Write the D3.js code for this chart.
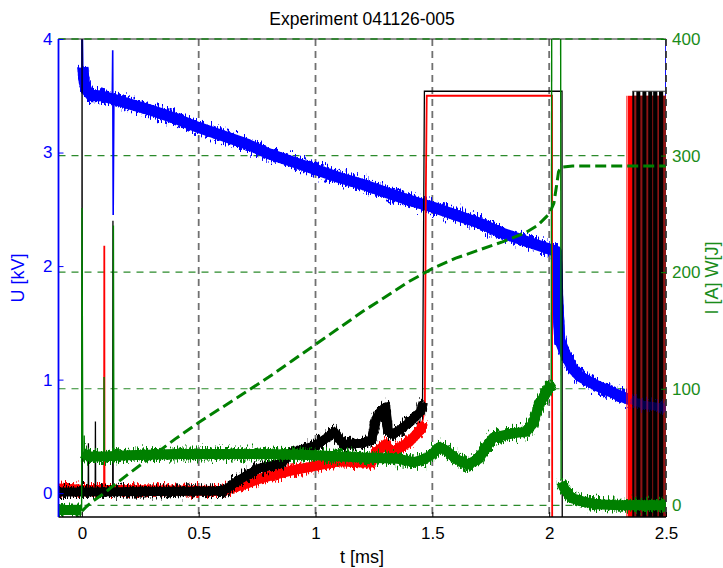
<!DOCTYPE html>
<html>
<head>
<meta charset="utf-8">
<script src="https://cdn.jsdelivr.net/npm/d3@7"></script>
<style>
  html, body { margin: 0; padding: 0; background: #fff; }
  svg { display: block; font-family: "Liberation Sans", Arial, Helvetica, sans-serif; }
</style>
</head>
<body>
<svg id="chart" width="723" height="568"></svg>
<script>
// ---------- tick values ----------
const xTicks = [0, 0.5, 1, 1.5, 2, 2.5];
const uTicks = [0, 1, 2, 3, 4];
const iTicks = [0, 100, 200, 300, 400];

// ---------- U [kV], blue (left axis) ----------
const tU  = [0.004, 0.01, 0.02, 0.04, 0.08, 0.12, 0.2, 0.3, 0.4, 0.5, 0.6, 0.7, 0.8, 0.9, 1.0, 1.1, 1.2, 1.3, 1.4, 1.5, 1.6, 1.7, 1.8, 1.9, 2.0, 2.03, 2.037, 2.045, 2.07, 2.1, 2.13, 2.2, 2.3, 2.35, 2.4, 2.5];
const uKV = [3.75, 3.62, 3.55, 3.5, 3.5, 3.48, 3.43, 3.37, 3.3, 3.22, 3.15, 3.08, 2.99, 2.92, 2.85, 2.78, 2.72, 2.65, 2.58, 2.52, 2.45, 2.38, 2.29, 2.22, 2.15, 2.13, 1.7, 1.35, 1.22, 1.1, 1.03, 0.95, 0.86, 0.82, 0.78, 0.75];
// fast transients of U: [t, kV] polylines
const uSpikes = [
  [[0, 3.7], [0.0005, 4.3], [0.004, 3.75]],
  [[0.13, 3.47], [0.132, 3.9], [0.134, 2.45], [0.137, 3.45]],
  [[2.497, 0.75], [2.5, 4.3]]
];

// ---------- red probe [kV] (left axis) ----------
const tRed  = [-0.1, 0.0, 0.6, 0.65, 0.7, 0.75, 0.8, 0.9, 1.0, 1.1, 1.2, 1.24, 1.26, 1.3, 1.31, 1.33, 1.4, 1.45, 1.46];
const redKV = [0.04, 0.03, 0.02, 0.05, 0.08, 0.12, 0.15, 0.2, 0.24, 0.28, 0.27, 0.27, 0.36, 0.43, 0.4, 0.36, 0.45, 0.56, 0.62];
const redSpikes = [
  [[0.095, 0.02], [0.096, 2.18], [0.097, 0.02]],
  [[1.455, 0.6], [1.468, 0.75], [1.472, 2.6], [1.476, 3.5], [2.012, 3.5], [2.013, -0.6]]
];

// ---------- black probe [kV] (left axis) ----------
const tBlk  = [-0.1, 0.0, 0.6, 0.62, 0.66, 0.7, 0.76, 0.85, 0.9, 1.0, 1.05, 1.08, 1.1, 1.12, 1.2, 1.24, 1.26, 1.3, 1.31, 1.33, 1.37, 1.41, 1.45, 1.46];
const blkKV = [0.01, 0.01, 0.02, 0.04, 0.1, 0.15, 0.22, 0.26, 0.36, 0.42, 0.49, 0.54, 0.48, 0.43, 0.44, 0.47, 0.66, 0.76, 0.55, 0.52, 0.57, 0.64, 0.72, 0.8];
const blkSpikes = [
  [[0, 0.02], [0.0008, 4.3], [0.002, 0.04]],
  [[0.027, 0.03], [0.028, 0.44], [0.029, 0.03]],
  [[0.057, 0.05], [0.058, 0.63], [0.059, 0.05]],
  [[0.132, 0.03], [0.133, 2.4], [0.134, 0.03]],
  [[1.458, 0.8], [1.465, 3.2], [1.466, 3.54], [2.055, 3.54], [2.056, -0.6]]
];

// ---------- end-of-shot oscillation burst ----------
const burstRed   = [2.337, 2.5];      // red probe saturated, kV top 3.50
const burstRedTop = 3.5;
const burstBlack = [[2.356, 2.364], [2.373, 2.390], [2.399, 2.416], [2.424, 2.441], [2.445, 2.463], [2.470, 2.488]];
const burstBlackTop = 3.54;

// ---------- I [A], green solid (right axis); null = gap ----------
const tI = [-0.1, -0.002, 0, 0.004, 0.03, 0.1, 0.2, 0.4, 0.6, 0.8, 1.0, 1.2, 1.35, 1.42, 1.47, 1.5, 1.53, 1.56, 1.6, 1.65, 1.7, 1.73, 1.76, 1.85, 1.9, 1.93, 1.96, 1.99, 2.009, 2.03, 2.052, 2.06, 2.08, 2.1, 2.15, 2.2, 2.3, 2.5];
const iA = [-4, -4, null, 45, 42, 42, 43, 44, 44, 44, 43, 41, 40, 37, 40, 44, 50, 47, 40, 35, 40, 50, 58, 62, 63, 70, 88, 97, 105, null, 20, 16, 10, 6, 3, 1, 0, 0];
const iSpikes = [
  [[-0.001, -4], [0.0005, 255], [0.004, 45]],
  [[0.009, 44], [0.010, 60], [0.011, 44]],
  [[0.094, 42], [0.095, 110], [0.096, 42]],
  [[0.134, 42], [0.135, 240], [0.137, 42]],
  [[2.009, 105], [2.011, 430]],
  [[2.049, 430], [2.051, 22]]
];

// ---------- W [J], green dashed (right axis) ----------
const tW = [0, 0.02, 0.05, 0.1, 0.13, 0.2, 0.3, 0.4, 0.5, 0.6, 0.7, 0.8, 0.9, 1.0, 1.1, 1.2, 1.3, 1.4, 1.5, 1.6, 1.7, 1.8, 1.9, 1.95, 2.0, 2.02, 2.03, 2.04, 2.05, 2.1, 2.5];
const wJ = [-5, -1, 4, 11, 16, 27, 42, 57, 71, 84, 97, 110, 124, 138, 152, 166, 179, 192, 203, 212, 219, 226, 234, 240, 250, 259, 272, 286, 290, 291, 291];

// ---------- layout ----------
const box = { l: 58.5, r: 666, t: 39, b: 517 };
const x  = d3.scaleLinear().domain([-0.1, 2.5]).range([box.l, box.r]);
const yU = d3.scaleLinear().domain([-0.21, 4]).range([box.b, box.t]);
const yI = d3.scaleLinear().domain([-10, 400]).range([box.b, box.t]);

const BLUE = "#0000ff", RED = "#ff0000", GREEN = "#008000";
const svg = d3.select("#chart");
const defs = svg.append("defs");

defs.append("clipPath").attr("id", "plotClip")
  .append("rect").attr("x", box.l).attr("y", box.t)
  .attr("width", box.r - box.l).attr("height", box.b - box.t);

// vertical-only jitter to give the sampled traces their ragged look
function jitterFilter(id, seed, scale) {
  const f = defs.append("filter").attr("id", id)
    .attr("filterUnits", "userSpaceOnUse")
    .attr("x", 0).attr("y", 0).attr("width", 723).attr("height", 568)
    .attr("color-interpolation-filters", "sRGB");
  f.append("feTurbulence").attr("type", "fractalNoise")
    .attr("baseFrequency", "0.8 0.15").attr("numOctaves", 2)
    .attr("seed", seed).attr("result", "n");
  f.append("feColorMatrix").attr("in", "n").attr("type", "matrix")
    .attr("values", "0 0 0 0 0.5  0 1 0 0 0  0 0 0 0 0  0 0 0 0 1")
    .attr("result", "m");
  f.append("feDisplacementMap").attr("in", "SourceGraphic").attr("in2", "m")
    .attr("scale", scale).attr("xChannelSelector", "R").attr("yChannelSelector", "G");
}
jitterFilter("jitU", 3, 20);
jitterFilter("jitR", 7, 16);
jitterFilter("jitK", 11, 16);
jitterFilter("jitI", 17, 18);

// ---------- grid ----------
const grid = svg.append("g");
grid.selectAll("line.gi").data(iTicks).join("line")
  .attr("x1", box.l).attr("x2", box.r)
  .attr("y1", d => yI(d)).attr("y2", d => yI(d))
  .attr("stroke", "#2b8a2b").attr("stroke-width", 1.2)
  .attr("stroke-dasharray", "7,6");
grid.selectAll("line.gx").data(xTicks.filter(d => d > 0 && d < 2.5)).join("line")
  .attr("x1", d => x(d)).attr("x2", d => x(d))
  .attr("y1", box.t).attr("y2", box.b)
  .attr("stroke", "#707070").attr("stroke-width", 1.8)
  .attr("stroke-dasharray", "7,5");

// ---------- data ----------
const plot = svg.append("g").attr("clip-path", "url(#plotClip)");

const lineU = d3.line().defined(d => d[1] != null).x(d => x(d[0])).y(d => yU(d[1]));
const lineI = d3.line().defined(d => d[1] != null).x(d => x(d[0])).y(d => yI(d[1]));
const zip = (a, b) => a.map((t, i) => [t, b[i]]);

// a sampled trace: solid core plus a jittered envelope
function body(data, gen, color, core, edge, filt, opacity = 1) {
  const g = plot.append("g").attr("opacity", opacity);
  g.append("path").datum(data).attr("d", gen)
    .attr("fill", "none").attr("stroke", color).attr("stroke-width", core)
    .attr("stroke-linejoin", "round");
  g.append("path").datum(data).attr("d", gen)
    .attr("fill", "none").attr("stroke", color).attr("stroke-width", edge)
    .attr("stroke-linejoin", "round").attr("filter", `url(#${filt})`);
}
function traces(list, gen, color, width) {
  plot.append("g").selectAll("path").data(list).join("path")
    .attr("d", gen).attr("fill", "none").attr("stroke", color)
    .attr("stroke-width", width).attr("stroke-linejoin", "miter");
}

// U
body(zip(tU, uKV), lineU, BLUE, 11, 11, "jitU");
traces(uSpikes, lineU, BLUE, 1.6);
// red probe
body(zip(tRed, redKV), lineU, RED, 10, 10, "jitR");
traces(redSpikes, lineU, RED, 1.8);
// black probe
body(zip(tBlk, blkKV), lineU, "#000", 9, 10, "jitK");
traces(blkSpikes, lineU, "#000", 1.3);

// burst after the shot
const burst = plot.append("g");
burst.append("rect")
  .attr("x", x(burstRed[0])).attr("width", x(burstRed[1]) - x(burstRed[0]))
  .attr("y", yU(burstRedTop)).attr("height", box.b - yU(burstRedTop))
  .attr("fill", RED);
burst.append("rect")
  .attr("x", x(burstBlack[0][0])).attr("width", x(burstRed[1]) - x(burstBlack[0][0]))
  .attr("y", yU(burstRedTop)).attr("height", box.b - yU(burstRedTop))
  .attr("fill", "#8e1414");
burst.selectAll("rect.k").data(burstBlack).join("rect")
  .attr("x", d => x(d[0])).attr("width", d => x(d[1]) - x(d[0]))
  .attr("y", yU(burstBlackTop)).attr("height", box.b - yU(burstBlackTop))
  .attr("fill", "#000");
burst.append("line")
  .attr("x1", x(burstBlack[0][0])).attr("x2", x(burstRed[1]))
  .attr("y1", yU(burstBlackTop)).attr("y2", yU(burstBlackTop))
  .attr("stroke", "#333").attr("stroke-width", 1.2);
burst.append("line")
  .attr("x1", x(burstRed[0]) - 1).attr("x2", x(burstRed[0]) - 1)
  .attr("y1", yU(burstRedTop)).attr("y2", box.b)
  .attr("stroke", RED).attr("stroke-width", 1);
// U trace showing through the burst
body(zip(tU, uKV).filter(d => d[0] >= 2.33), lineU, BLUE, 8, 9, "jitU", 0.3);

// current
body(zip(tI, iA), lineI, GREEN, 10, 11, "jitI");
traces(iSpikes, lineI, GREEN, 1.4);
// energy
plot.append("path").datum(zip(tW, wJ)).attr("d", lineI)
  .attr("fill", "none").attr("stroke", GREEN).attr("stroke-width", 3)
  .attr("stroke-dasharray", "11,5").attr("stroke-linejoin", "round");

// ---------- frame ----------
svg.append("line").attr("x1", box.l).attr("x2", box.r).attr("y1", box.t).attr("y2", box.t)
  .attr("stroke", "#222").attr("stroke-width", 1);
svg.append("line").attr("x1", box.l).attr("x2", box.r).attr("y1", box.t).attr("y2", box.t)
  .attr("stroke", "#2b8a2b").attr("stroke-width", 1.6).attr("stroke-dasharray", "7,6");
svg.append("line").attr("x1", box.r).attr("x2", box.r).attr("y1", box.t).attr("y2", box.b)
  .attr("stroke", "#333").attr("stroke-width", 1.8).attr("stroke-dasharray", "7,5");
svg.append("line").attr("x1", box.l).attr("x2", box.r).attr("y1", box.b).attr("y2", box.b)
  .attr("stroke", "#000").attr("stroke-width", 1.6);
svg.append("line").attr("x1", box.l).attr("x2", box.l).attr("y1", box.t).attr("y2", box.b)
  .attr("stroke", BLUE).attr("stroke-width", 1.8);

// ---------- axes ----------
const fmt = d => String(d);
const axL = svg.append("g").attr("transform", `translate(${box.l},0)`)
  .call(d3.axisLeft(yU).tickValues(uTicks).tickSize(-5).tickPadding(6).tickFormat(fmt));
const axR = svg.append("g").attr("transform", `translate(${box.r},0)`)
  .call(d3.axisRight(yI).tickValues(iTicks).tickSize(-5).tickPadding(6).tickFormat(fmt));
const axB = svg.append("g").attr("transform", `translate(0,${box.b})`)
  .call(d3.axisBottom(x).tickValues(xTicks).tickSize(-5).tickPadding(10).tickFormat(fmt));
[axL, axR, axB].forEach(a => {
  a.select(".domain").remove();
  a.selectAll("text").attr("font-size", 17).attr("font-family", null);
  a.attr("font-family", null);
});
axL.selectAll("line").attr("stroke", BLUE);
axL.selectAll("text").attr("fill", BLUE);
axR.selectAll("line").attr("stroke", GREEN);
axR.selectAll("text").attr("fill", "#1a8c1a");
axB.selectAll("line").attr("stroke", "#000");
axB.selectAll("text").attr("fill", "#000");

// ---------- titles ----------
svg.append("text").attr("x", 362).attr("y", 25).attr("text-anchor", "middle")
  .attr("font-size", 17.5).attr("fill", "#000").text("Experiment 041126-005");
svg.append("text").attr("x", 362).attr("y", 563).attr("text-anchor", "middle")
  .attr("font-size", 18).attr("fill", "#000").text("t [ms]");
svg.append("text").attr("transform", "translate(24,278) rotate(-90)").attr("text-anchor", "middle")
  .attr("font-size", 18).attr("fill", BLUE).text("U [kV]");
svg.append("text").attr("transform", "translate(718,278) rotate(-90)").attr("text-anchor", "middle")
  .attr("font-size", 18).attr("fill", "#1a8c1a").text("I [A] W[J]");
</script>
</body>
</html>
